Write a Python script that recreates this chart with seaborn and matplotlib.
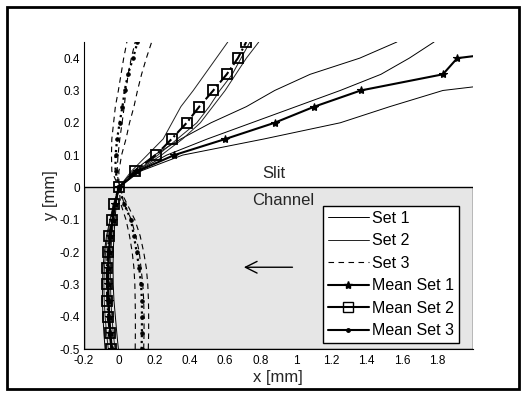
import numpy as np
import pandas as pd
import matplotlib
matplotlib.use("Agg")
import matplotlib.pyplot as plt
import matplotlib.patches as mpatches
from matplotlib.lines import Line2D
import seaborn as sns

# y levels (trajectory parameter)
y_levels = [-0.5, -0.45, -0.4, -0.35, -0.3, -0.25, -0.2, -0.15, -0.1, -0.05,
            0.0, 0.05, 0.1, 0.15, 0.2, 0.25, 0.3, 0.35, 0.4, 0.45]

# Set 1 individual trajectories (x at each y level)
set1_a = [-0.078, -0.085, -0.09, -0.093, -0.093, -0.09, -0.082, -0.07, -0.05, -0.025,
          0.0, 0.08, 0.2, 0.35, 0.52, 0.72, 0.88, 1.08, 1.36, 1.57]
set1_b = [-0.045, -0.05, -0.056, -0.06, -0.062, -0.06, -0.055, -0.047, -0.035, -0.02,
          0.0, 0.1, 0.27, 0.5, 0.75, 1.0, 1.25, 1.48, 1.64, 1.78]
set1_c = [-0.003, -0.012, -0.02, -0.028, -0.032, -0.033, -0.032, -0.028, -0.022, -0.015,
          0.0, 0.12, 0.36, 0.82, 1.25, 1.53, 1.83, 2.6, 3.0, 3.4]
# Set 2 individual trajectories
set2_a = [-0.06, -0.07, -0.078, -0.083, -0.085, -0.082, -0.075, -0.065, -0.05, -0.03,
          0.0, 0.07, 0.16, 0.25, 0.3, 0.35, 0.42, 0.485, 0.55, 0.615]
set2_b = [-0.022, -0.032, -0.04, -0.045, -0.048, -0.048, -0.045, -0.04, -0.03, -0.02,
          0.0, 0.1, 0.22, 0.33, 0.44, 0.51, 0.57, 0.64, 0.69, 0.74]
set2_c = [-0.04, -0.05, -0.058, -0.064, -0.066, -0.065, -0.06, -0.052, -0.04, -0.025,
          0.0, 0.1, 0.24, 0.36, 0.46, 0.53, 0.6, 0.66, 0.72, 0.79]
# Set 3 individual trajectories
set3_a = [0.092, 0.093, 0.093, 0.092, 0.09, 0.085, 0.075, 0.06, 0.04, 0.01,
          0.0, -0.04, -0.042, -0.04, -0.03, -0.02, -0.003, 0.012, 0.027, 0.045]
set3_b = [0.14, 0.142, 0.142, 0.14, 0.135, 0.125, 0.115, 0.095, 0.07, 0.03,
          0.0, -0.01, -0.005, 0.005, 0.018, 0.03, 0.04, 0.052, 0.07, 0.092]
set3_c = [0.166, 0.168, 0.168, 0.167, 0.163, 0.155, 0.14, 0.12, 0.09, 0.045,
          0.0, 0.0, 0.015, 0.04, 0.06, 0.085, 0.105, 0.128, 0.155, 0.185]
# Means
mean1 = [-0.04, -0.048, -0.054, -0.058, -0.06, -0.06, -0.055, -0.048, -0.035, -0.022,
         0.0, 0.105, 0.312, 0.602, 0.879, 1.104, 1.366, 1.83, 1.911, 2.65]
mean2 = [-0.042, -0.052, -0.06, -0.066, -0.068, -0.068, -0.062, -0.055, -0.041, -0.028,
         0.0, 0.09, 0.209, 0.298, 0.383, 0.454, 0.533, 0.609, 0.672, 0.719]
mean3 = [0.128, 0.13, 0.13, 0.13, 0.125, 0.115, 0.1, 0.085, 0.068, 0.029,
         0.0, -0.019, -0.019, -0.01, 0.004, 0.02, 0.033, 0.051, 0.08, 0.105]

legend_labels = ["Set 1", "Set 2", "Set 3", "Mean Set 1", "Mean Set 2", "Mean Set 3"]
x_ticks = [-0.2, 0, 0.2, 0.4, 0.6, 0.8, 1, 1.2, 1.4, 1.6, 1.8]
x_ticklabels = ["-0.2", "0", "0.2", "0.4", "0.6", "0.8", "1", "1.2", "1.4", "1.6", "1.8"]
y_ticks = [-0.5, -0.4, -0.3, -0.2, -0.1, 0, 0.1, 0.2, 0.3, 0.4]
y_ticklabels = ["-0.5", "-0.4", "-0.3", "-0.2", "-0.1", "0", "0.1", "0.2", "0.3", "0.4"]

sns.set_theme(style="white")
plt.rcParams["font.family"] = ["Liberation Sans", "DejaVu Sans"]

fig = plt.figure(figsize=(5.26, 3.97), dpi=100)
ax = fig.add_axes([83.5 / 526, 48 / 397, 389.5 / 526, 307 / 397])

# channel patch
ax.add_patch(mpatches.Rectangle((-0.2, -0.5), 2.2, 0.5, facecolor="#e6e6e6",
                                edgecolor="black", linewidth=1.0, zorder=0))

def draw(xs, **kw):
    sns.lineplot(x=xs, y=y_levels, sort=False, estimator=None, ax=ax,
                 legend=False, **kw)

for s in (set1_a, set1_b, set1_c):
    draw(s, color="black", linewidth=0.7)
for s in (set2_a, set2_b, set2_c):
    draw(s, color="#222222", linewidth=0.7)
for s in (set3_a, set3_b, set3_c):
    draw(s, color="black", linewidth=0.8, linestyle=(0, (5, 4)))

draw(mean1, color="black", linewidth=1.5, marker="*", markersize=6,
     markeredgewidth=0.8, markeredgecolor="black", markerfacecolor="black")
draw(mean2, color="black", linewidth=1.5, linestyle="-.", marker="s", markersize=6.5,
     markerfacecolor="none", markeredgecolor="black", markeredgewidth=1.3)
draw(mean3, color="black", linewidth=1.6, linestyle=":", marker="o", markersize=2.5,
     markeredgecolor="black", markerfacecolor="black")

ax.set_xlim(-0.2, 2.0)
ax.set_ylim(-0.5, 0.45)
ax.set_xticks(x_ticks)
ax.set_xticklabels(x_ticklabels)
ax.set_yticks(y_ticks)
ax.set_yticklabels(y_ticklabels)
ax.tick_params(axis="both", labelsize=8.5, direction="in", length=3, width=0.6,
               colors="black")
ax.tick_params(axis="x", pad=4.5)
ax.tick_params(axis="y", pad=2.5)
for side in ("top", "right"):
    ax.spines[side].set_visible(False)
for side in ("left", "bottom"):
    ax.spines[side].set_color("black")
    ax.spines[side].set_linewidth(0.8)
ax.set_facecolor("white")
ax.set_xlabel("x [mm]", fontsize=12, labelpad=2)
ax.set_ylabel("y [mm]", fontsize=12, labelpad=1)

ax.text(0.873, 0.044, "Slit", ha="center", va="center", fontsize=12)
ax.text(0.926, -0.042, "Channel", ha="center", va="center", fontsize=12)
ax.annotate("", xy=(0.69, -0.247), xytext=(0.996, -0.247),
            arrowprops=dict(arrowstyle="->,head_length=0.7,head_width=0.35",
                            color="black", linewidth=1.0))

handles = [
    Line2D([], [], color="black", linewidth=0.7),
    Line2D([], [], color="#222222", linewidth=0.7),
    Line2D([], [], color="black", linewidth=0.8, linestyle=(0, (5, 4))),
    Line2D([], [], color="black", linewidth=1.5, marker="*", markersize=6),
    Line2D([], [], color="black", linewidth=1.5, marker="s", markersize=6.5,
           markerfacecolor="none"),
    Line2D([], [], color="black", linewidth=1.5, marker="o", markersize=2.5),
]
leg = ax.legend(handles, legend_labels, loc="upper left",
                bbox_to_anchor=(323 / 526, (397 - 206) / 397),
                bbox_transform=fig.transFigure,
                fontsize=11.5, frameon=True, fancybox=False, framealpha=1,
                edgecolor="black", handlelength=2.55, handletextpad=0.2,
                labelspacing=0.47, borderpad=0.3, borderaxespad=0)
leg.get_frame().set_linewidth(1.0)
for t in leg.get_texts():
    t.set_color("black")

fig.patches.append(mpatches.Rectangle((7 / 526, 8 / 397), 512 / 526, 382 / 397,
                                      transform=fig.transFigure, fill=False,
                                      edgecolor="black", linewidth=2))

fig.savefig("out.png", dpi=100)
